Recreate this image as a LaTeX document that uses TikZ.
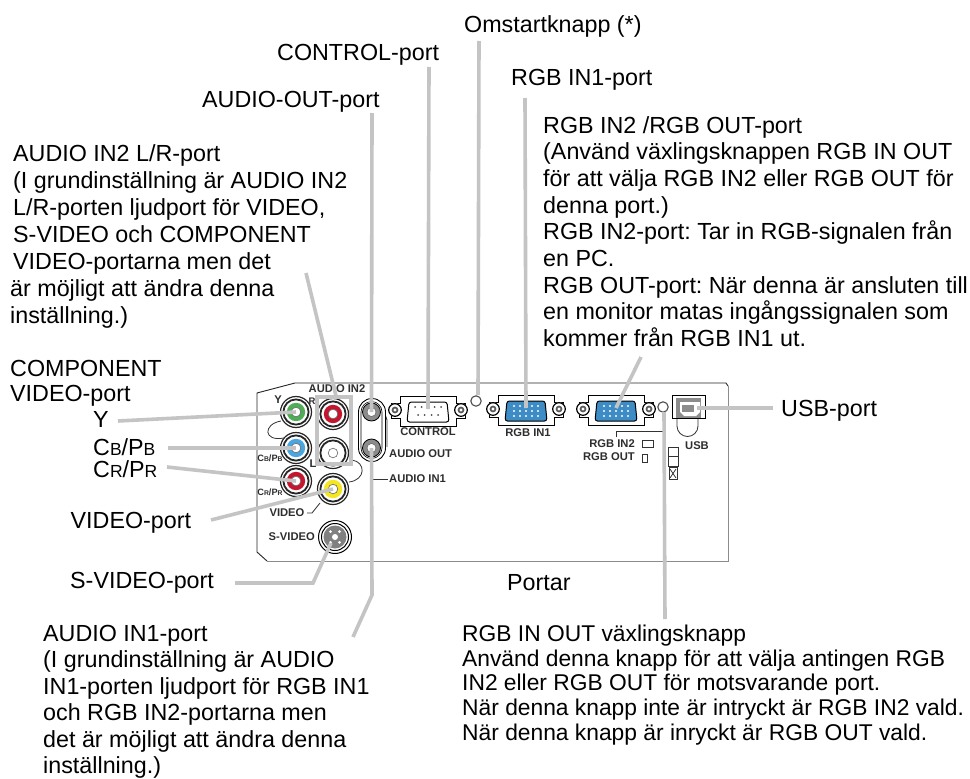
\documentclass[tikz,border=0pt]{standalone}
\usepackage{fontspec}
\setmainfont{Liberation Sans}
\definecolor{conn}{HTML}{C4C4C4}
\definecolor{pgreen}{HTML}{4FAE55}
\definecolor{pblue}{HTML}{4AA6DF}
\definecolor{pred}{HTML}{C4162F}
\definecolor{pyell}{HTML}{F5E61E}
\definecolor{vblue}{HTML}{3D8CC6}
\newcommand{\smc}[1]{{\fontsize{17.5}{17.5}\selectfont #1}}
\newcommand{\tny}[1]{{\fontsize{6.8}{7}\selectfont #1}}
\newcommand{\rca}[4]{%
  \fill[white] (#2,#3) circle (16);
  \draw[line width=1.2,black!85] (#2,#3) circle (15.5);
  \draw[line width=1.8,black!85] (#2,#3) circle (12.6);
  \fill[#4] (#2,#3) circle (9.2);
  \fill[white,draw=black!60,line width=.6] (#2,#3) circle (4.8);
  \node[portpt] (#1) at (#2,#3) {};}
\newcommand{\jack}[3]{%
  \fill[black!45] (#2,#3) circle (9);
  \draw[line width=.8] (#2,#3) circle (9);
  \fill[white,draw=black!70] (#2,#3) circle (4.5);
  \node[portpt] (#1) at (#2,#3) {};}
\newcommand{\dsub}[4]{% name,x,y,fill
  \draw[line width=.8,fill=white] (#2-28,#3-14) -- (#2+28,#3-14) -- (#2+28,#3-7) -- (#2+37,#3-7) -- (#2+37,#3+8) -- (#2+28,#3+8) -- (#2+28,#3+16) -- (#2-28,#3+16) -- (#2-28,#3+8) -- (#2-37,#3+8) -- (#2-37,#3-7) -- (#2-28,#3-7) -- cycle;
  \foreach \s in {-1,1}{\fill[white] (#2+\s*33,#3) circle (6.8); \draw[line width=1.2] (#2+\s*33,#3) circle (6.3); \fill[black!65] (#2+\s*33,#3) circle (3.4); \fill[white] (#2+\s*33,#3) circle (1.6);}
  \draw[line width=1,fill=#4,rounded corners=2.5] (#2-19,#3-8) -- (#2+19,#3-8) -- (#2+21,#3+12) -- (#2-21,#3+12) -- cycle;
  \node[portpt] (#1) at (#2,#3-1) {};}
\tikzset{
  lab/.style={anchor=north west,inner sep=0pt,align=left,text=black,font=\fontsize{23.3}{#1}\selectfont\frenchspacing,execute at begin node=\rule{0pt}{18pt}},
  lab/.default=26.7,
  plab/.style={inner sep=0pt,font=\fontsize{11.2}{12}\selectfont\bfseries,text=black!82},
  portpt/.style={inner sep=0pt,minimum size=0pt},
  conn/.style={draw=conn,line width=3.6},
  thin/.style={draw=black!80,line width=.8},
}
\begin{document}
\begin{tikzpicture}[x=1pt,y=-1pt]
\useasboundingbox (0,0) rectangle (970,779);
\fill[white] (0,0) rectangle (970,779);
% panel
\draw[line width=.9,black!85] (267,561) -- (257,552) -- (257,393) -- (295,383) -- (726,383) -- (728,386);
\draw[line width=.8,black!45] (267,561) -- (728,561) -- (728,386);
% curly wires
\draw[thin] (281,421) .. controls (263,424) and (263,442) .. (284,438);
\draw[thin] (352,460) .. controls (366,462) and (366,480) .. (349,482);
\draw[thin] (384,411) -- (387,420) -- (387,447);
% ports
\rca{py}{296}{412}{pgreen}
\rca{pb}{296}{448}{pblue}
\rca{pr}{296}{481}{pred}
\rca{pl1}{333}{414}{pred}
\rca{pl2}{333}{453}{white}
\rca{pv}{333}{489}{pyell}
% s-video
\draw[line width=1] (335,537) circle (16.5);
\draw[line width=1] (335,537) circle (13.5);
\fill[black!50] (335,537) circle (11.5);
\fill[white] (335,537) circle (3);
\foreach \a in {-50,50,130,230}{\fill[white] (335,537)++(\a:7) circle (1.6);}
\node[portpt] (ps) at (331,543) {};
% audio jacks
\draw[line width=.9,fill=white] (358.5,412) arc (180:360:13.5) -- (385.5,448) arc (0:180:13.5) -- cycle;
\draw[line width=.6] (361,412) arc (180:360:10.5) -- (382,448) arc (0:180:10.5) -- cycle;
\jack{pao}{371.5}{412}
\jack{pai}{371.5}{448}
% d-subs
\dsub{pc}{428}{410}{white}
\foreach \xx in {-13,-6.5,0,6.5,13}{\fill[black!70] (428+\xx,407) circle (1);}
\foreach \xx in {-10,-3.5,3.5,10}{\fill[black!70] (428+\xx,415) circle (1);}
\dsub{pi1}{526}{409}{vblue}
\dsub{pi2}{616}{409}{vblue}
\foreach \cx in {526,616}{\foreach \yy in {-3,2,7}{\foreach \xx in {-12,-6,0,6,12}{\fill[white] (\cx+\xx,409+\yy) circle (1.1);}}}
% reset, switch
\draw[line width=1.1,fill=white,draw=black!70] (476,401) circle (5.2);
\node[portpt] (prs) at (478,395) {};
\draw[line width=1.1,fill=white,draw=black!70] (663,407) circle (5.2);
\node[portpt] (psw) at (664,412) {};
% usb
\draw[thin] (677,418) -- (677,426) arc (180:0:10.5) -- (698,418);
\draw[line width=.9,fill=white] (672,395) rectangle (705,418);
\fill[black!45] (676,398) rectangle (701,418);
\fill[white] (680,402) -- (700,402) -- (700,412) -- (696,416) -- (684,416) -- (680,412) -- cycle;
\fill[black!45] (682,405) rectangle (694,412);
\node[portpt] (pu) at (697,408) {};
% switch symbols
\draw[thin] (616,437) -- (616,431) -- (663,431);
\draw[thin,fill=white] (642,440) rectangle (653,447);
\draw[thin,fill=white] (642,454) rectangle (647,462);
\draw[thin] (668,447) rectangle (678,466);
\draw[thin] (668,456) -- (678,456);
\draw[thin] (669,467) rectangle (677,479);
\draw[thin] (670,469) -- (676,478) (670,478) -- (676,469);
% panel texts
\node[plab] (a1) at (337,389) {AUDIO IN2};
\node[plab] (a2) at (278,400) {Y};
\node[plab,font=\fontsize{9.5}{10}\selectfont\bfseries] (a3) at (312,401) {R};
\node[plab] (a4) at (313,464) {L};
\node[plab,font=\fontsize{9.2}{10}\selectfont\bfseries] (a5) at (270,458) {C\tny{B}/P\tny{B}};
\node[plab,font=\fontsize{9.2}{10}\selectfont\bfseries] (a6) at (270,492) {C\tny{R}/P\tny{R}};
\node[plab] (a7) at (287,513) {VIDEO};
\node[plab,anchor=east] (a8) at (315,537) {S-VIDEO};
\draw[thin] (307,513) -- (312,513) -- (320,503);
\node[plab,anchor=west] (a9) at (389,454) {AUDIO OUT};
\node[plab,anchor=west] (a10) at (389,479) {AUDIO IN1};
\draw[thin] (373,479) -- (388,479);
\node[plab] (a11) at (428,432) {CONTROL};
\node[plab] (a12) at (528,433) {RGB IN1};
\node[plab,anchor=east] (a13) at (635,444) {RGB IN2};
\node[plab,anchor=east] (a14) at (635,457) {RGB OUT};
\node[plab] (a15) at (697,446) {USB};
% audio in2 box
\draw[conn] (317,397) rectangle (351,464);
% labels (y = baseline - 18)
\node[lab] (t1) at (464,14) {Omstartknapp (*)};
\node[lab] (t2) at (277,42) {CONTROL-port};
\node[lab] (t3) at (511,67) {RGB IN1-port};
\node[lab] (t4) at (202,89) {AUDIO-OUT-port};
\node[lab] (t5) at (543,116) {RGB IN2 /RGB OUT-port\\(Använd växlingsknappen RGB IN OUT\\för att välja RGB IN2 eller RGB OUT för\\denna port.)\\RGB IN2-port: Tar in RGB-signalen från\\en PC.\\RGB OUT-port: När denna är ansluten till\\en monitor matas ingångssignalen som\\kommer från RGB IN1 ut.};
\node[lab=27] (t6) at (13,144) {AUDIO IN2 L/R-port\\(I grundinställning är AUDIO IN2\\L/R-porten ljudport för VIDEO,\\S-VIDEO och COMPONENT\\VIDEO-portarna men det\\\hspace*{-3pt}är möjligt att ändra denna\\\hspace*{-3pt}inställning.)};
\node[lab=25] (t7) at (10,360) {COMPONENT\\VIDEO-port};
\node[lab] (t8) at (93,409) {Y};
\node[lab] (t9) at (93,437) {C\smc{B}/P\smc{B}};
\node[lab] (t10) at (93,459) {C\smc{R}/P\smc{R}};
\node[lab] (t11) at (70.5,510) {VIDEO-port};
\node[lab] (t12) at (70,570) {S-VIDEO-port};
\node[lab] (t13) at (781,398) {USB-port};
\node[lab] (t14) at (507,572) {Portar};
\node[lab=26.5] (t15) at (43,625) {AUDIO IN1-port\\(I grundinställning är AUDIO\\IN1-porten ljudport för RGB IN1\\och RGB IN2-portarna men\\det är möjligt att ändra denna\\inställning.)};
\node[lab=24.6,font=\fontsize{22.8}{24.6}\selectfont\frenchspacing] (t16) at (462,625) {RGB IN OUT växlingsknapp\\Använd denna knapp för att välja antingen RGB\\IN2 eller RGB OUT för motsvarande port.\\När denna knapp inte är intryckt är RGB IN2 vald.\\När denna knapp är inryckt är RGB OUT vald.};
% connector free ends
\coordinate (c1) at (479,41);
\coordinate (c2) at (429,67);
\coordinate (c3) at (525,98);
\coordinate (c4) at (372,113);
\coordinate (c5) at (641,357);
\coordinate (c6) at (306,273);
\coordinate (c6b) at (336,396);
\coordinate (c7) at (118,421);
\coordinate (c8) at (168,448);
\coordinate (c9) at (167,467);
\coordinate (c10) at (211,520);
\coordinate (c11) at (235,583);
\coordinate (c12) at (313,583);
\coordinate (c13) at (773,408);
\coordinate (c14) at (372,595);
\coordinate (c15) at (353,637);
\coordinate (c16) at (665,619);
% connectors
\draw[conn] (c1) -- (prs.center);
\draw[conn] (c2) -- (pc.center);
\draw[conn] (c3) -- (pi1.center);
\draw[conn] (c4) -- (pao.center);
\draw[conn] (c5) -- (pi2.center);
\draw[conn] (c6) -- (c6b);
\draw[conn] (c7) -- (py.center);
\draw[conn] (c8) -- (pb.center);
\draw[conn] (c9) -- (pr.center);
\draw[conn] (c10) -- (pv.center);
\draw[conn] (c11) -- (c12) -- (ps.center);
\draw[conn] (c13) -- (pu.center);
\draw[conn] (pai.center) -- (c14) -- (c15);
\draw[conn] (c16) -- (psw.center);
\end{tikzpicture}
\end{document}
